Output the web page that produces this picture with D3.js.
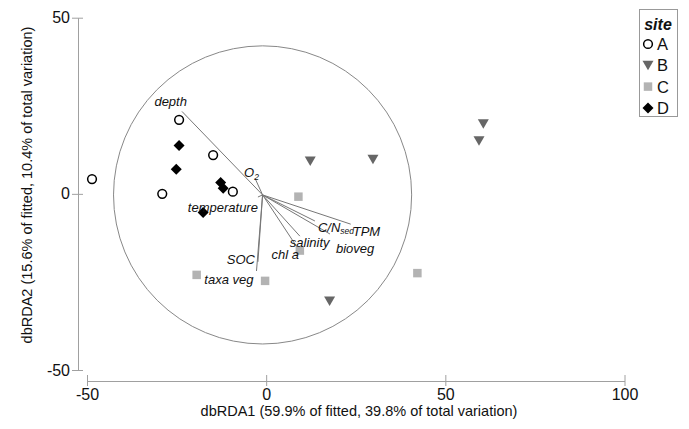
<!DOCTYPE html>
<html><head><meta charset="utf-8">
<script src="https://cdn.jsdelivr.net/npm/d3@7"></script>
<style>
html,body{margin:0;padding:0;background:#fff;}
svg{display:block;font-family:"Liberation Sans",Arial,Helvetica,sans-serif;}
</style></head>
<body><svg id="chart" width="689" height="429"></svg>
<script>
// ---- data ----
const xTicks = [-50, 0, 50, 100];
const yTicks = [-50, 0, 50];
const siteNames = ["A", "B", "C", "D"];
const siteA = [[-48.6, 4.2], [-24.3, 21.0], [-14.8, 11.0], [-29.0, 0.0], [-9.3, 0.6]];
const siteB = [[60.6, 19.9], [59.4, 15.1], [12.3, 9.3], [29.8, 9.8], [17.7, -30.4]];
const siteC = [[9.0, -0.8], [9.4, -16.1], [-0.3, -24.7], [42.2, -22.5], [-19.4, -23.0]];
const siteD = [[-24.3, 13.7], [-25.1, 7.0], [-12.7, 3.2], [-12.0, 1.6], [-17.6, -5.3]];
const vectorNames = ["depth", "O2", "temperature", "SOC", "taxa veg", "TPM", "C/Nsed", "bioveg", "salinity", "chl a"];
const vectorX = [-23.5, -3.1, -2.3, -2.3, -2.7, 23.6, 13.6, 17.8, 9.4, 8.6];
const vectorY = [23.4, 4.4, -0.9, -19.3, -21.9, -8.6, -7.7, -11.4, -12.0, -15.1];
const vectorOrigin = [-1.0, -0.3];
const circleRadius = 41.6;
const xTitle = "dbRDA1 (59.9% of fitted, 39.8% of total variation)";
const yTitle = "dbRDA2 (15.6% of fitted, 10.4% of total variation)";

// ---- layout / style (not data) ----
const labelStyle = {
  "depth": {dx: 5, dy: -5, anchor: "end"},
  "O2": {dx: -11, dy: -1, anchor: "start"},
  "temperature": {dx: 0, dy: 15, anchor: "end"},
  "SOC": {dx: -3, dy: 2, anchor: "end"},
  "taxa veg": {dx: -3, dy: 13, anchor: "end"},
  "TPM": {dx: 2, dy: 12, anchor: "start"},
  "C/Nsed": {dx: 3, dy: 11, anchor: "start"},
  "bioveg": {dx: 6, dy: 19, anchor: "start"},
  "salinity": {dx: -10, dy: 10.5, anchor: "start"},
  "chl a": {dx: 2, dy: 12, anchor: "end"}
};
const siteStyle = {
  A: {type: d3.symbolCircle, fill: "#fff", stroke: "#000", size: 60, sw: 1.5},
  B: {type: "tri", fill: "#666"},
  C: {type: d3.symbolSquare, fill: "#b3b3b3", stroke: "none", size: 72, sw: 0},
  D: {type: "dia", fill: "#000"}
};

const svg = d3.select("#chart");
const x = d3.scaleLinear().domain([-50, 100]).range([87, 624.5]);
const y = d3.scaleLinear().domain([-50, 50]).range([370, 17.7]);
const axisColor = "#a0a0a0";
const fmt = d => String(d);

// x axis
const gx = svg.append("g").attr("transform", "translate(0,381)")
  .call(d3.axisBottom(x).tickValues(xTicks).tickSize(0).tickPadding(8).tickFormat(fmt));
gx.select(".domain").attr("stroke", axisColor);
gx.selectAll(".tick").append("line").attr("y1", -6).attr("y2", 5).attr("stroke", axisColor);
gx.selectAll(".tick text").attr("fill", "#111").style("font-size", "16px")
  .style("font-family", "Liberation Sans,Arial,sans-serif");

// y axis
const gy = svg.append("g").attr("transform", "translate(78,0)")
  .call(d3.axisLeft(y).tickValues(yTicks).tickSize(0).tickPadding(8).tickFormat(fmt));
gy.select(".domain").attr("stroke", axisColor);
gy.selectAll(".tick").append("line").attr("x1", -6).attr("x2", 5).attr("stroke", axisColor);
gy.selectAll(".tick text").attr("fill", "#111").style("font-size", "16px")
  .style("font-family", "Liberation Sans,Arial,sans-serif");

// axis titles
svg.append("text").attr("x", 359).attr("y", 416).attr("text-anchor", "middle")
  .style("font-size", "14.5px").attr("fill", "#111").text(xTitle);
svg.append("text").attr("transform", "translate(32,185) rotate(-90)").attr("text-anchor", "middle")
  .style("font-size", "14.5px").attr("fill", "#111").text(yTitle);

// correlation circle
const ox = x(vectorOrigin[0]), oy = y(vectorOrigin[1]);
svg.append("circle").attr("cx", ox).attr("cy", oy)
  .attr("r", x(circleRadius) - x(0)).attr("fill", "none").attr("stroke", "#888").attr("stroke-width", 1);

// vectors
const vecs = vectorNames.map((n, i) => ({name: n, vx: vectorX[i], vy: vectorY[i]}));
svg.append("g").selectAll("line").data(vecs).join("line")
  .attr("x1", ox).attr("y1", oy)
  .attr("x2", d => x(d.vx)).attr("y2", d => y(d.vy))
  .attr("stroke", "#777").attr("stroke-width", 1);

// points
const sites = {A: siteA, B: siteB, C: siteC, D: siteD};
function drawSymbol(g, name, px, py) {
  const s = siteStyle[name];
  if (s.type === "tri") {
    g.append("path").attr("d", `M${px - 5.5},${py - 4.5}L${px + 5.5},${py - 4.5}L${px},${py + 5}Z`)
      .attr("fill", s.fill);
  } else if (s.type === "dia") {
    g.append("path").attr("d", `M${px},${py - 5.5}L${px + 5.5},${py}L${px},${py + 5.5}L${px - 5.5},${py}Z`)
      .attr("fill", s.fill);
  } else {
    g.append("path").attr("transform", `translate(${px},${py})`)
      .attr("d", d3.symbol().type(s.type).size(s.size)())
      .attr("fill", s.fill).attr("stroke", s.stroke).attr("stroke-width", s.sw);
  }
}
const gp = svg.append("g");
siteNames.forEach(n => sites[n].forEach(p => drawSymbol(gp, n, x(p[0]), y(p[1]))));

// vector labels
const gl = svg.append("g").style("font-style", "italic").style("font-size", "13px").attr("fill", "#111");
vecs.forEach(d => {
  const st = labelStyle[d.name];
  const t = gl.append("text").attr("x", x(d.vx) + st.dx).attr("y", y(d.vy) + st.dy).attr("text-anchor", st.anchor);
  if (d.name === "O2") {
    t.text("O");
    t.append("tspan").attr("dy", 3).style("font-size", "8.5px").text("2");
  } else if (d.name === "C/Nsed") {
    t.text("C/N");
    t.append("tspan").attr("dy", 2).style("font-size", "8.5px").text("sed");
  } else {
    t.text(d.name);
  }
});

// legend
const lg = svg.append("g");
lg.append("rect").attr("x", 639.5).attr("y", 9.5).attr("width", 38).attr("height", 107)
  .attr("fill", "#fff").attr("stroke", "#999");
lg.append("text").attr("x", 658).attr("y", 30).attr("text-anchor", "middle")
  .style("font-style", "italic").style("font-weight", "bold").style("font-size", "16px").attr("fill", "#111").text("site");
siteNames.forEach((n, i) => {
  const cy = 44 + i * 21.3;
  drawSymbol(lg, n, 648, cy);
  lg.append("text").attr("x", 657).attr("y", cy + 6).style("font-size", "16.5px").attr("fill", "#111").text(n);
});
</script></body></html>
